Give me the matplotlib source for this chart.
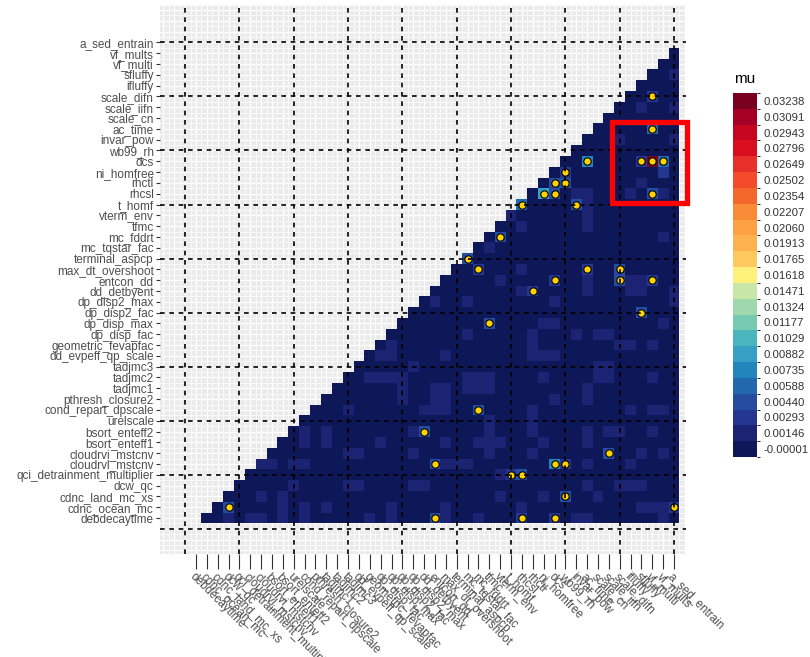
import numpy as np
import matplotlib.pyplot as plt
from matplotlib.colors import ListedColormap, BoundaryNorm
from matplotlib.cm import ScalarMappable
from matplotlib.patches import Rectangle

plt.rcParams['font.family'] = ['Liberation Sans', 'DejaVu Sans']

# parameters, bottom-to-top on y and left-to-right on x
params = [
    'debdecaytime', 'cdnc_ocean_mc', 'cdnc_land_mc_xs', 'dcw_qc',
    'qci_detrainment_multiplier', 'cloudrvl_mstcnv', 'cloudrvi_mstcnv',
    'bsort_enteff1', 'bsort_enteff2', 'urelscale', 'cond_repart_dpscale',
    'pthresh_closure2', 'tadjmc1', 'tadjmc2', 'tadjmc3', 'dd_evpeff_qp_scale',
    'geometric_fevapfac', 'dp_disp_fac', 'dp_disp_max', 'dp_disp2_fac',
    'dp_disp2_max', 'dd_detbyent', 'entcon_dd', 'max_dt_overshoot',
    'terminal_aspcp', 'mc_tqstar_fac', 'mc_fddrt', 'tfmc', 'vterm_env',
    't_homf', 'rhcsl', 'rhctl', 'ni_homfree', 'dcs', 'wb99_rh', 'invar_pow',
    'ac_time', 'scale_cn', 'scale_iifn', 'scale_difn', 'ifluffy', 'sfluffy',
    'vf_multi', 'vf_mults', 'a_sed_entrain',
]

# legend breaks (band centres) and band colours, low to high
mu_breaks = [-0.00001, 0.00146, 0.00293, 0.00440, 0.00588, 0.00735, 0.00882,
             0.01029, 0.01177, 0.01324, 0.01471, 0.01618, 0.01765, 0.01913,
             0.02060, 0.02207, 0.02354, 0.02502, 0.02649, 0.02796, 0.02943,
             0.03091, 0.03238]
band_colors = ['#0E1858', '#1C2372', '#24368F', '#254C9E', '#2368AC', '#2485BC',
               '#359FC4', '#4BB5BE', '#78C9B2', '#A0D8AE', '#C7E6A7', '#FEF07A',
               '#FDC95E', '#FDB24F', '#FBA043', '#F98A37', '#F4672C', '#F44B2C',
               '#E8302A', '#D90F1F', '#C6061F', '#A50026', '#7A0020']

# colour band of each cell (0-9, a-m), one string per row from vf_mults down
# to debdecaytime; a row holds the columns to the right of the diagonal
mu_rows = [
    '0',
    '00',
    '001',
    '0000',
    '00200',
    '001001',
    '0000000',
    '00000400',
    '000100001',
    '0000000000',
    '00500002m40',
    '020000000020',
    '0330000001000',
    '06301100010310',
    '400003100000000',
    '1000000100000000',
    '00100000100000000',
    '030000000000000010',
    '0100000000000000000',
    '30000000000000000000',
    '002000100000200300000',
    '0000010000200100311200',
    '00000000120000100011001',
    '010010000000100000000001',
    '0000000000000000000003000',
    '00000000300001100000000010',
    '000000010000010001011000000',
    '0100000000000010000000110100',
    '01100001000000011100000000000',
    '000001000000000000000011000000',
    '0011110000011100001000011000100',
    '00000010011011100000000100000000',
    '000000010011000000000100100000000',
    '0001000000111003000010000000010110',
    '00000000000000000100010000000000000',
    '010100000001300000100010000101100100',
    '0010100001000001001110001000100000000',
    '00000001100001000000100010000003001010',
    '110110000000000031110000000520100010000',
    '0000000000000000000000012300000000000000',
    '00000100001100001100000000000000100111000',
    '000101000000000000000000010001030010000000',
    '0300001010100000100001000000100000000001112',
    '00101101010000010100031001000200201100000010',
]

# cells marked with a dot: (x parameter, y parameter)
sig_cells = [
    ('vf_multi', 'scale_difn'), ('vf_multi', 'ac_time'),
    ('sfluffy', 'dcs'), ('vf_multi', 'dcs'), ('vf_mults', 'dcs'), ('ac_time', 'dcs'),
    ('wb99_rh', 'ni_homfree'), ('dcs', 'rhctl'), ('wb99_rh', 'rhctl'),
    ('ni_homfree', 'rhcsl'), ('dcs', 'rhcsl'), ('vf_multi', 'rhcsl'),
    ('rhcsl', 't_homf'), ('invar_pow', 't_homf'), ('vterm_env', 'mc_fddrt'),
    ('mc_tqstar_fac', 'terminal_aspcp'), ('mc_fddrt', 'max_dt_overshoot'),
    ('ac_time', 'max_dt_overshoot'), ('scale_difn', 'max_dt_overshoot'),
    ('dcs', 'entcon_dd'), ('scale_difn', 'entcon_dd'), ('vf_multi', 'entcon_dd'),
    ('rhctl', 'dd_detbyent'), ('sfluffy', 'dp_disp2_fac'), ('tfmc', 'dp_disp_max'),
    ('mc_fddrt', 'cond_repart_dpscale'), ('dd_detbyent', 'bsort_enteff2'),
    ('scale_iifn', 'cloudrvi_mstcnv'), ('entcon_dd', 'cloudrvl_mstcnv'),
    ('dcs', 'cloudrvl_mstcnv'), ('wb99_rh', 'cloudrvl_mstcnv'),
    ('t_homf', 'qci_detrainment_multiplier'), ('rhcsl', 'qci_detrainment_multiplier'),
    ('wb99_rh', 'cdnc_land_mc_xs'), ('dcw_qc', 'cdnc_ocean_mc'),
    ('a_sed_entrain', 'cdnc_ocean_mc'), ('entcon_dd', 'debdecaytime'),
    ('rhcsl', 'debdecaytime'), ('dcs', 'debdecaytime'),
]

n = len(params)
pos = {p: i + 1 for i, p in enumerate(params)}

mu = np.full((n, n), np.nan)
for k, row in enumerate(mu_rows):
    r = n - 1 - k
    assert len(row) == n - r
    for j, ch in enumerate(row):
        mu[r - 1, r + j] = mu_breaks[int(ch, 36)]

cmap = ListedColormap(band_colors)
b = np.array(mu_breaks)
half = np.diff(b) / 2
edges = np.concatenate([[b[0] - half[0]], b[:-1] + half, [b[-1] + half[-1]]])
norm = BoundaryNorm(edges, cmap.N)

fig = plt.figure(figsize=(8.1, 6.57), dpi=100)
ax = fig.add_axes([160 / 810, 1 - 554 / 657, 526 / 810, 549 / 657])
ax.set_facecolor('#EBEBEB')

# background grid every half step over the whole panel
for g in np.arange(-2, 48.6, 0.5):
    w = 0.9 if g == int(g) else 0.5
    ax.axvline(g, color='white', lw=w, zorder=1)
    ax.axhline(g, color='white', lw=w, zorder=1)

grid = np.arange(0.5, n + 1)
ax.pcolormesh(grid, grid, np.ma.masked_invalid(mu), cmap=cmap, norm=norm,
              edgecolors='none', antialiased=False, zorder=2)

ax.set_xticks(range(1, n + 1))
ax.set_yticks(range(1, n + 1))
ax.set_xticklabels(params)
ax.set_yticklabels(params)

for v in range(0, n + 1, 5):
    ax.axvline(v, color='black', lw=1.2, ls=(0, (2.8, 2.8)), zorder=4)
    ax.axhline(v, color='black', lw=1.2, ls=(0, (2.8, 2.8)), zorder=4)

sx = [pos[a] for a, _ in sig_cells]
sy = [pos[c] for _, c in sig_cells]
ax.scatter(sx, sy, s=28, c='#FFD200', edgecolors='black', linewidths=0.8, zorder=3)

ax.add_patch(Rectangle((39.3, 30.1), 6.9, 7.5, fill=False, edgecolor='#FF0000',
                       lw=3.8, clip_on=False, zorder=5))

ax.set_xlim(-2.31, 46.1)
ax.set_ylim(-2.33, 48.46)
for s in ax.spines.values():
    s.set_visible(False)

ax.tick_params(axis='y', length=3, width=0.8, color='#333333', pad=1.5,
               labelsize=8.5, labelcolor='#4D4D4D')
ax.tick_params(axis='x', length=11, width=0.8, color='#333333', pad=1,
               labelsize=8.5, labelcolor='#4D4D4D')
plt.setp(ax.get_xticklabels(), rotation=-45, ha='left', va='top',
         rotation_mode='anchor')

cax = fig.add_axes([733 / 810, 1 - 457 / 657, 24 / 810, 364 / 657])
cb = fig.colorbar(ScalarMappable(norm=norm, cmap=cmap), cax=cax, ticks=mu_breaks)
cb.set_ticklabels([f'{v:.5f}' for v in mu_breaks])
cb.outline.set_visible(False)
cax.tick_params(length=0, pad=5, labelsize=8.2, labelcolor='#333333')
fig.text(734 / 810, 1 - 79 / 657, 'mu', fontsize=11, ha='left', va='center',
         color='black')

fig.savefig('out.png', dpi=100)
